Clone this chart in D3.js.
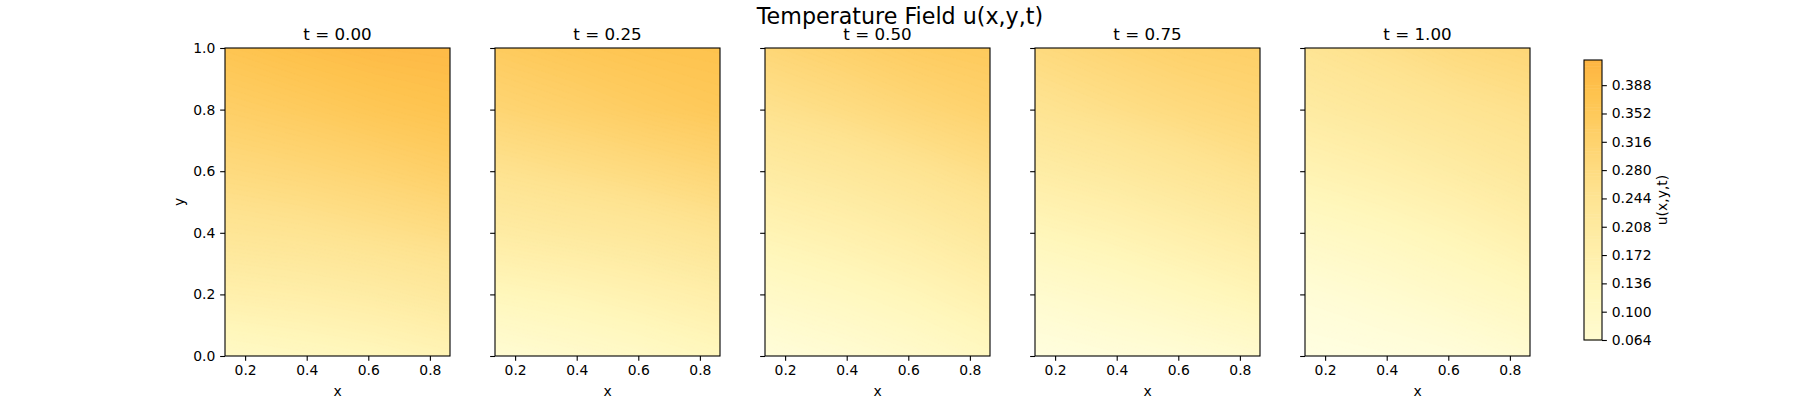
<!DOCTYPE html>
<html>
<head>
<meta charset="utf-8">
<script src="https://cdn.jsdelivr.net/npm/d3@7"></script>
<style>
  body { margin: 0; background: #fff; }
  text { font-family: "DejaVu Sans", sans-serif; fill: #000; }
</style>
</head>
<body>
<div id="vis"></div>
<script>
// time of each panel
const times = [0, 0.25, 0.5, 0.75, 1.0];

// sample grid the field was read on (x across, y up)
const grid_x = [0.135, 0.378, 0.622, 0.865];
const grid_y = [0.0, 0.2, 0.4, 0.6, 0.8, 1.0];

// u(x,y,t), one row per grid_y value
const u_t000 = [
    [0.095, 0.110, 0.125, 0.145],
    [0.170, 0.180, 0.195, 0.215],
    [0.235, 0.245, 0.260, 0.275],
    [0.285, 0.297, 0.312, 0.330],
    [0.330, 0.345, 0.362, 0.375],
    [0.370, 0.387, 0.400, 0.405]
];
const u_t025 = [
    [0.055, 0.075, 0.095, 0.120],
    [0.125, 0.140, 0.160, 0.180],
    [0.195, 0.210, 0.225, 0.245],
    [0.252, 0.268, 0.285, 0.302],
    [0.305, 0.322, 0.340, 0.355],
    [0.345, 0.360, 0.372, 0.378]
];
const u_t050 = [
    [0.035, 0.055, 0.080, 0.110],
    [0.090, 0.110, 0.135, 0.165],
    [0.145, 0.165, 0.190, 0.220],
    [0.200, 0.220, 0.245, 0.270],
    [0.255, 0.275, 0.298, 0.318],
    [0.300, 0.320, 0.340, 0.350]
];
const u_t075 = [
    [0.020, 0.035, 0.050, 0.070],
    [0.070, 0.090, 0.115, 0.140],
    [0.130, 0.150, 0.175, 0.200],
    [0.190, 0.210, 0.235, 0.258],
    [0.245, 0.265, 0.285, 0.300],
    [0.285, 0.305, 0.322, 0.330]
];
const u_t100 = [
    [0.010, 0.020, 0.035, 0.060],
    [0.045, 0.065, 0.090, 0.115],
    [0.095, 0.115, 0.140, 0.170],
    [0.150, 0.170, 0.195, 0.220],
    [0.200, 0.220, 0.242, 0.260],
    [0.240, 0.262, 0.285, 0.300]
];
const fields = [u_t000, u_t025, u_t050, u_t075, u_t100];

// axis ticks
const x_ticks = [0.2, 0.4, 0.6, 0.8];
const y_ticks = [0.0, 0.2, 0.4, 0.6, 0.8, 1.0];
const cbar_ticks = [0.064, 0.100, 0.136, 0.172, 0.208, 0.244, 0.280, 0.316, 0.352, 0.388];
const cbar_range = [0.064, 0.420];
const level_step = 0.004;

// YlOrBr colour stops
const ylorbr = ["#ffffe5", "#fff7bc", "#fee391", "#fec44f", "#fe9929", "#ec7014", "#cc4c02", "#993404", "#662506"];

const frame_width = 1800;
const frame_height = 400;
const panel = {top: 48, bottom: 356, width: 225, gap: 45, left: 225};
const x_domain = [0.5 - 0.3653, 0.5 + 0.3653];

const color = d3.scaleLinear()
    .domain(ylorbr.map((c, i) => i / (ylorbr.length - 1)))
    .range(ylorbr)
    .interpolate(d3.interpolateRgb);

const svg = d3.select("#vis")
    .append("svg")
        .attr("width", frame_width)
        .attr("height", frame_height);

svg.append("text")
    .attr("x", frame_width / 2)
    .attr("y", 24)
    .attr("text-anchor", "middle")
    .attr("font-size", "22.2px")
    .text("Temperature Field u(x,y,t)");

const levels = d3.range(Math.round(0.42 / level_step) + 1).map((k) => k * level_step);
const y_scale = d3.scaleLinear().domain([0, 1]).range([panel.bottom, panel.top]);

fields.forEach((field, p) => {
    const left = panel.left + p * (panel.width + panel.gap);
    const x_scale = d3.scaleLinear().domain(x_domain).range([left, left + panel.width]);
    const nx = grid_x.length, ny = grid_y.length;
    const gdx = (grid_x[nx - 1] - grid_x[0]) / (nx - 1);
    const gdy = (grid_y[ny - 1] - grid_y[0]) / (ny - 1);
    const values = [];
    for (let j = 0; j < ny; j++) for (let i = 0; i < nx; i++) values.push(field[j][i]);

    const path = d3.geoPath(d3.geoTransform({
        point: function (cx, cy) {
            this.stream.point(x_scale(grid_x[0] + (cx - 0.5) * gdx), y_scale(grid_y[0] + (cy - 0.5) * gdy));
        }
    }));

    const clip_id = "clip" + p;
    svg.append("clipPath").attr("id", clip_id)
        .append("rect")
            .attr("x", left).attr("y", panel.top)
            .attr("width", panel.width).attr("height", panel.bottom - panel.top);

    const g = svg.append("g").attr("clip-path", "url(#" + clip_id + ")");
    g.selectAll("path")
        .data(d3.contours().size([nx, ny]).thresholds(levels)(values))
        .enter()
        .append("path")
            .attr("d", path)
            .attr("fill", (d) => color(d.value + level_step / 2))
            .attr("stroke", (d) => color(d.value + level_step / 2))
            .attr("stroke-width", 0.6);

    const xa = svg.append("g")
        .attr("transform", "translate(0," + panel.bottom + ")")
        .call(d3.axisBottom(x_scale).tickValues(x_ticks).tickSize(4.86).tickPadding(4.2).tickFormat(d3.format(".1f")));
    const ya = svg.append("g")
        .attr("transform", "translate(" + left + ",0)")
        .call(d3.axisLeft(y_scale).tickValues(y_ticks).tickSize(4.86).tickPadding(4.86)
            .tickFormat(p === 0 ? d3.format(".1f") : ""));
    [xa, ya].forEach((a) => {
        a.select(".domain").remove();
        a.selectAll("line").attr("stroke-width", 1.1);
        a.selectAll("text").attr("font-size", "13.9px").attr("font-family", "DejaVu Sans");
    });

    svg.append("rect")
        .attr("x", left).attr("y", panel.top)
        .attr("width", panel.width).attr("height", panel.bottom - panel.top)
        .attr("fill", "none").attr("stroke", "#000").attr("stroke-width", 1.1);

    svg.append("text")
        .attr("x", left + panel.width / 2)
        .attr("y", 40)
        .attr("text-anchor", "middle")
        .attr("font-size", "16.7px")
        .text("t = " + d3.format(".2f")(times[p]));

    svg.append("text")
        .attr("x", left + panel.width / 2)
        .attr("y", 396)
        .attr("text-anchor", "middle")
        .attr("font-size", "13.9px")
        .text("x");
});

svg.append("text")
    .attr("transform", "translate(184," + (panel.top + panel.bottom) / 2 + ") rotate(-90)")
    .attr("text-anchor", "middle")
    .attr("font-size", "13.9px")
    .text("y");

// colorbar
const cbar = {left: 1584, width: 18, top: 60, bottom: 340};
const c_scale = d3.scaleLinear().domain(cbar_range).range([cbar.bottom, cbar.top]);
const cbar_levels = levels.filter((v) => v >= cbar_range[0] - 1e-9 && v < cbar_range[1] - 1e-9);

svg.selectAll(".cband")
    .data(cbar_levels)
    .enter()
    .append("rect")
        .attr("class", "cband")
        .attr("x", cbar.left)
        .attr("width", cbar.width)
        .attr("y", (d) => c_scale(d + level_step))
        .attr("height", (d) => c_scale(d) - c_scale(d + level_step) + 0.5)
        .attr("fill", (d) => color(d + level_step / 2));

svg.append("rect")
    .attr("x", cbar.left).attr("y", cbar.top)
    .attr("width", cbar.width).attr("height", cbar.bottom - cbar.top)
    .attr("fill", "none").attr("stroke", "#000").attr("stroke-width", 1.1);

const ca = svg.append("g")
    .attr("transform", "translate(" + (cbar.left + cbar.width) + ",0)")
    .call(d3.axisRight(c_scale).tickValues(cbar_ticks).tickSize(4.86).tickPadding(4.86).tickFormat(d3.format(".3f")));
ca.select(".domain").remove();
ca.selectAll("line").attr("stroke-width", 1.1);
ca.selectAll("text").attr("font-size", "13.9px").attr("font-family", "DejaVu Sans");

svg.append("text")
    .attr("transform", "translate(1667," + (cbar.top + cbar.bottom) / 2 + ") rotate(-90)")
    .attr("text-anchor", "middle")
    .attr("font-size", "13.9px")
    .text("u(x,y,t)");
</script>
</body>
</html>
